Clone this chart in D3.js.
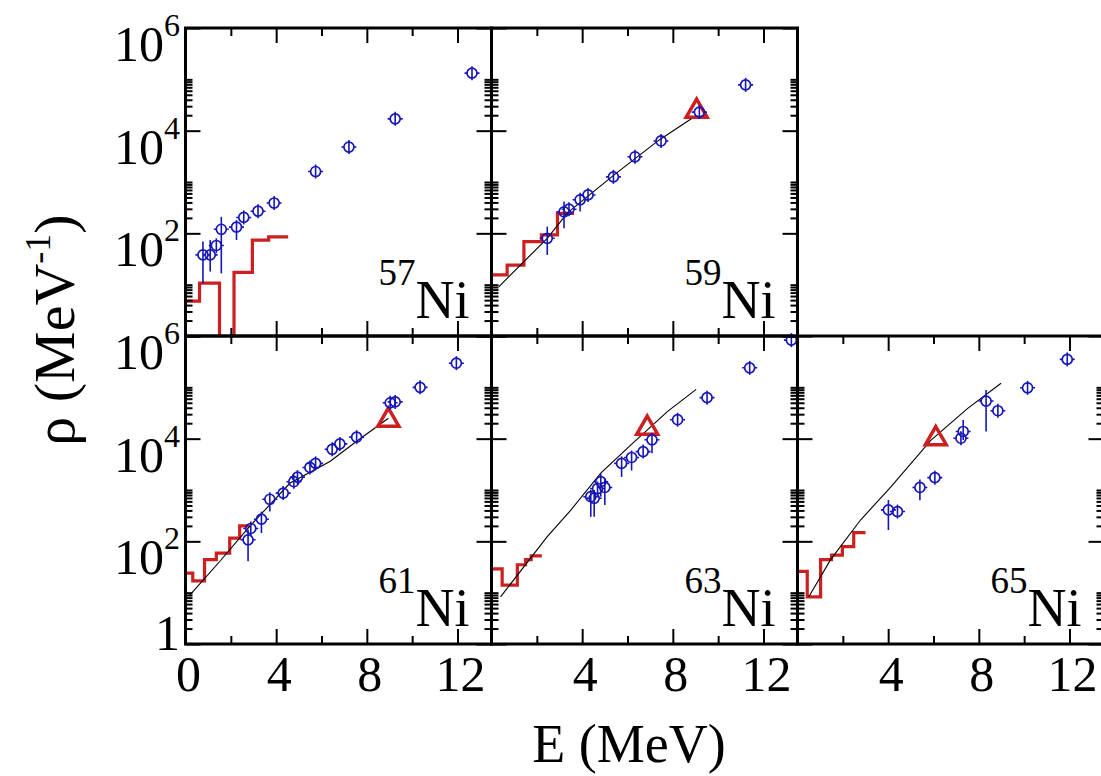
<!DOCTYPE html>
<html>
<head>
<meta charset="utf-8">
<script src="https://cdn.jsdelivr.net/npm/d3@7"></script>
<style>
  body { margin: 0; background: #fff; }
  svg { display: block; }
  svg text { fill: #000; }
</style>
</head>
<body>
<div id="chart"></div>
<script>
// ---- data: [E (MeV), rho, errLow, errHigh] ----
const pts57 = [
  [0.77, 38, 10.7, 69], [1.09, 38, 18, 74], [1.36, 58, 41, 80], [1.58, 120, 16.6, 209],
  [2.25, 132, 74, 160], [2.57, 204, 151, 263], [3.20, 270], [3.91, 390],
  [5.74, 1.6e3], [7.21, 4.8e3], [9.25, 1.7e4], [12.64, 1.32e5]
];
const edges57 = [0, 0.62, 1.5, 2.14, 2.95, 3.67, 4.53];
const hist57 = [4.8, 10.7, 0, 17.4, 74, 85];

const pts59 = [
  [2.46, 80, 38, 135], [3.2, 263, 125, 415], [3.42, 295], [3.91, 450, 265, 560],
  [4.26, 560], [5.38, 1260], [6.33, 3100], [7.48, 6300], [9.17, 2.3e4], [11.21, 7.8e4]
];
const line59 = [[0.32, 9.1], [2.46, 80], [3.35, 251], [5.41, 1380], [7.4, 6600], [8.95, 1.86e4]];
const tri59 = [9.05, 2.4e4];
const edges59 = [0, 0.69, 1.43, 2.2, 2.91, 3.64];
const hist59 = [15.5, 24, 69, 93, 245];

const pts61 = [
  [2.76, 107, 41, 170], [2.88, 178], [3.35, 270, 145, 380], [3.72, 660, 380, 800],
  [4.31, 870], [4.78, 1450], [4.94, 1780], [5.49, 2750], [5.74, 3300], [6.47, 6200],
  [6.81, 7900], [7.55, 1.07e4], [9.03, 5.0e4], [9.25, 5.2e4], [10.35, 1.0e5], [11.95, 2.95e5]
];
const line61 = [[0.18, 8.9], [1.5, 40], [2.83, 195], [4.6, 1350], [6.37, 3600], [7.55, 8900], [8.95, 2.5e4]];
const tri61 = [8.95, 2.3e4];
const edges61 = [0, 0.32, 0.84, 1.36, 1.95, 2.39, 2.83];
const hist61 = [24, 17, 44, 59, 115, 200];

const pts63 = [
  [4.38, 740, 300, 900], [4.53, 690, 300, 1000], [4.68, 1070], [4.82, 1450, 740, 2100],
  [5.0, 1120, 510, 1700], [5.74, 3300, 1800, 4200], [6.18, 4300, 2400, 5600], [6.69, 5600],
  [7.08, 9500, 5200, 1.27e4], [8.21, 2.34e4], [9.51, 6.3e4], [11.39, 2.4e5], [13.23, 8.3e5]
];
const line63 = [[0.4, 8.3], [2.46, 123], [3.5, 407], [4.82, 2140], [6.15, 7600], [7.77, 3.4e4], [9.03, 9.1e4]];
const tri63 = [6.87, 1.6e4];
const edges63 = [0, 0.47, 1.14, 1.5, 1.75, 2.22];
const hist63 = [29, 14, 35, 44, 52];

const pts65 = [
  [4.01, 410, 166, 640], [4.41, 380], [5.4, 1120, 630, 1600], [6.06, 1740], [7.21, 1.02e4],
  [7.31, 1.38e4, 9400, 2.3e4], [8.32, 5.4e4, 1.38e4, 8.9e4], [8.84, 3.5e4], [10.15, 9.8e4], [11.9, 3.5e5]
];
const line65 = [[0.5, 8.3], [1.46, 44], [2.79, 263], [4.12, 1150], [5.88, 9300], [7.51, 3.9e4], [8.98, 1.2e5]];
const tri65 = [6.1, 1.0e4];
const edges65 = [0, 0.43, 1.02, 1.5, 1.98, 2.48, 3.0];
const hist65 = [26, 8.3, 44, 54, 79, 148];

const xMajor = [0, 4, 8, 12];
const xMinor = [2, 6, 10];
const yMajor = [1, 1e2, 1e4, 1e6];
const yMinor = [1, 1e2, 1e4].flatMap(b => d3.range(2, 11).map(k => b * k));
const yLabelsExp = [[1, null], [1e2, "2"], [1e4, "4"], [1e6, "6"]];

const panels = [
  {iso: "57", row: 0, col: 0, pts: pts57, edges: edges57, hist: hist57, line: null, tri: null},
  {iso: "59", row: 0, col: 1, pts: pts59, edges: edges59, hist: hist59, line: line59, tri: tri59},
  {iso: "61", row: 1, col: 0, pts: pts61, edges: edges61, hist: hist61, line: line61, tri: tri61},
  {iso: "63", row: 1, col: 1, pts: pts63, edges: edges63, hist: hist63, line: line63, tri: tri63},
  {iso: "65", row: 1, col: 2, pts: pts65, edges: edges65, hist: hist65, line: line65, tri: tri65}
];

// ---- layout ----
const W = 1101, H = 776;
const left0 = 185.5, top0 = 28, pw = 306, ph = 308;
const red = "#cc1f1f", blue = "#1616b8";
const serif = "'Liberation Serif', 'Times New Roman', Times, 'Nimbus Roman', 'Noto Serif', 'DejaVu Serif', 'FreeSerif', Tinos, serif";

let svg = d3.select("#chart").append("svg")
  .attr("width", W).attr("height", H)
  .style("font-family", serif);

panels.forEach((p, i) => {
  let L = left0 + p.col * pw, T = top0 + p.row * ph;
  let x = d3.scaleLinear().domain([0, 13.5]).range([L, L + pw]);
  let y = d3.scaleLog().domain([1, 1e6]).range([T + ph, T]);

  let g = svg.append("g");
  svg.append("clipPath").attr("id", "clip" + i)
    .append("rect").attr("x", L).attr("y", T).attr("width", pw).attr("height", ph);

  // red histogram
  let hp = p.hist.map((v, k) => [p.edges[k], v]);
  hp.push([p.edges[p.edges.length - 1], p.hist[p.hist.length - 1]]);
  g.append("path")
    .attr("clip-path", `url(#clip${i})`)
    .attr("d", d3.line().curve(d3.curveStepAfter)
      .x(d => x(d[0])).y(d => y(Math.max(d[1], 0.01)))(hp))
    .attr("fill", "none").attr("stroke", red).attr("stroke-width", 3.2);

  // model line
  if (p.line) {
    g.append("path")
      .attr("d", d3.line().x(d => x(d[0])).y(d => y(d[1]))(p.line))
      .attr("fill", "none").attr("stroke", "#000").attr("stroke-width", 1.1);
  }

  // triangle
  if (p.tri) {
    g.append("path")
      .attr("d", d3.symbol(d3.symbolTriangle, 190)())
      .attr("transform", `translate(${x(p.tri[0])},${y(p.tri[1])})`)
      .attr("fill", "none").attr("stroke", red).attr("stroke-width", 3.5);
  }

  // blue points with error bars
  let pt = g.selectAll(".pt").data(p.pts).enter().append("g")
    .attr("transform", d => `translate(${x(d[0])},${y(d[1])})`);
  pt.append("line")
    .attr("y1", d => d[2] ? Math.max(y(d[2]) - y(d[1]), 7) : 7)
    .attr("y2", d => d[3] ? Math.min(y(d[3]) - y(d[1]), -7) : -7)
    .attr("stroke", blue).attr("stroke-width", 1.6);
  pt.append("path").attr("d", "M-7.5,0H-5M5,0H7.5")
    .attr("stroke", blue).attr("stroke-width", 1.6);
  pt.append("circle").attr("r", 5)
    .attr("fill", "none").attr("stroke", blue).attr("stroke-width", 1.7);

  // ticks (inward)
  let tickStyle = sel => {
    sel.select(".domain").remove();
    sel.selectAll("line").attr("stroke", "#000").attr("stroke-width", 2);
  };
  [[d3.axisLeft, L], [d3.axisRight, L + pw]].forEach(([ax, pos]) => {
    g.append("g").attr("transform", `translate(${pos},0)`)
      .call(ax(y).tickValues(yMajor).tickSize(-15).tickFormat("")).call(tickStyle);
    g.append("g").attr("transform", `translate(${pos},0)`)
      .call(ax(y).tickValues(yMinor).tickSize(-7).tickFormat("")).call(tickStyle);
  });
  [[d3.axisBottom, T + ph], [d3.axisTop, T]].forEach(([ax, pos]) => {
    g.append("g").attr("transform", `translate(0,${pos})`)
      .call(ax(x).tickValues(xMajor).tickSize(-15).tickFormat("")).call(tickStyle);
    g.append("g").attr("transform", `translate(0,${pos})`)
      .call(ax(x).tickValues(xMinor).tickSize(-8).tickFormat("")).call(tickStyle);
  });

  // frame
  g.append("rect").attr("x", L).attr("y", T).attr("width", pw).attr("height", ph)
    .attr("fill", "none").attr("stroke", "#000").attr("stroke-width", 3);

  // isotope label
  let lab = g.append("text")
    .attr("x", L + pw - 22).attr("y", T + ph - 18)
    .attr("text-anchor", "end");
  lab.append("tspan").attr("font-size", 37).attr("dy", -33).text(p.iso);
  lab.append("tspan").attr("font-size", 54).attr("dy", 33).text("Ni");

  // y tick labels (first column only)
  if (p.col === 0) {
    yLabelsExp.forEach(([v, e]) => {
      if (p.row === 0 && v === 1) return;
      let t = g.append("text").attr("text-anchor", "end").attr("x", 180);
      if (e === null) {
        t.attr("y", y(v) + 6).attr("font-size", 50).text("1");
      } else {
        t.attr("y", y(v) + 33);
        t.append("tspan").attr("font-size", 50).text("10");
        t.append("tspan").attr("font-size", 32).attr("dy", -25).text(e);
      }
    });
  }

  // x tick labels (bottom row)
  if (p.row === 1) {
    xMajor.forEach(v => {
      if (p.col > 0 && v === 0) return;
      g.append("text").attr("x", x(v) + 3).attr("y", T + ph + 47)
        .attr("text-anchor", "middle").attr("font-size", 50).text(v);
    });
  }
});

// axis titles
let yt = svg.append("text")
  .attr("transform", "translate(74,330) rotate(-90)")
  .attr("text-anchor", "middle").attr("font-size", 58);
yt.append("tspan").text("ρ (MeV");
yt.append("tspan").attr("font-size", 36).attr("dy", -24).text("-1");
yt.append("tspan").attr("dy", 24).text(")");

svg.append("text").attr("x", 629).attr("y", 762)
  .attr("text-anchor", "middle").attr("font-size", 54).text("E (MeV)");
</script>
</body>
</html>
